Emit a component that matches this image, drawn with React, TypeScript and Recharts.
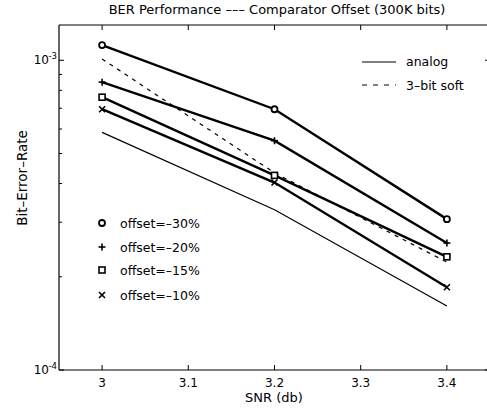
import React from 'react';
import { LineChart, Line, XAxis, YAxis } from 'recharts';

const FONT = '"DejaVu Sans", "Liberation Sans", Arial, sans-serif';

// ---- data ----
const snr = [3, 3.2, 3.4];
const offset30 = [1.12e-3, 6.95e-4, 3.07e-4];
const offset20 = [8.5e-4, 5.5e-4, 2.57e-4];
const offset15 = [7.6e-4, 4.25e-4, 2.32e-4];
const offset10 = [6.95e-4, 4.03e-4, 1.85e-4];
const analog = [5.85e-4, 3.29e-4, 1.61e-4];
const soft3 = [1.01e-3, 4.33e-4, 2.23e-4];

const xTicks = [3, 3.1, 3.2, 3.3, 3.4];
const xTickLabels = ['3', '3.1', '3.2', '3.3', '3.4'];
const yTicks = [1e-4, 2e-4, 3e-4, 4e-4, 5e-4, 6e-4, 7e-4, 8e-4, 9e-4, 1e-3];
const xDomain: [number, number] = [2.95, 3.45];
const yDomain: [number, number] = [1e-4, 1.3e-3];

const markerLabels = ['offset=–30%', 'offset=–20%', 'offset=–15%', 'offset=–10%'];
const lineLabels = ['analog', '3–bit soft'];

const data = snr.map((s, i) => ({
  snr: s,
  o30: offset30[i],
  o20: offset20[i],
  o15: offset15[i],
  o10: offset10[i],
  analog: analog[i],
  soft: soft3[i],
}));

// ---- markers ----
const Circ = ({ cx, cy }: any) => (
  <circle cx={cx} cy={cy} r={3} fill="#fff" stroke="#000" strokeWidth={1.8} />
);
const Plus = ({ cx, cy }: any) => (
  <g stroke="#000" strokeWidth={1.6}>
    <line x1={cx - 3.5} x2={cx + 3.5} y1={cy} y2={cy} />
    <line x1={cx} x2={cx} y1={cy - 3.5} y2={cy + 3.5} />
  </g>
);
const Sq = ({ cx, cy }: any) => (
  <rect x={cx - 3} y={cy - 3} width={6} height={6} fill="#fff" stroke="#000" strokeWidth={1.6} />
);
const Cross = ({ cx, cy }: any) => (
  <g stroke="#000" strokeWidth={1.6}>
    <line x1={cx - 3} x2={cx + 3} y1={cy - 3} y2={cy + 3} />
    <line x1={cx - 3} x2={cx + 3} y1={cy + 3} y2={cy - 3} />
  </g>
);

const dotFn = (M: any, k: string) => (p: any) => <M key={`${k}${p.index}`} cx={p.cx} cy={p.cy} />;

// ---- ticks ----
const isMajor = (v: number) => {
  const e = Math.round(Math.log10(v));
  return Math.abs(v / Math.pow(10, e) - 1) < 1e-9;
};

const LeftTick = (p: any) => {
  const { x, y, payload } = p;
  const v = payload.value;
  const major = isMajor(v);
  const e = Math.round(Math.log10(v));
  return (
    <g>
      <line x1={x} x2={x + (major ? 5 : 3)} y1={y} y2={y} stroke="#000" strokeWidth={1} />
      {major && (
        <>
          <text x={x - 10} y={y + 3.5} textAnchor="end" fontSize={12} fontFamily={FONT} fill="#000">
            10
          </text>
          <text x={x - 10.5} y={y - 1.5} textAnchor="start" fontSize={8.5} fontFamily={FONT} fill="#000">
            {`-${-e}`}
          </text>
        </>
      )}
    </g>
  );
};

const RightTick = (p: any) => {
  const { x, y, payload } = p;
  const major = isMajor(payload.value);
  return <line x1={x} x2={x - (major ? 5 : 3)} y1={y} y2={y} stroke="#000" strokeWidth={1} />;
};

const BottomTick = (p: any) => {
  const { x, y, index } = p;
  return (
    <g>
      <line x1={x} x2={x} y1={y} y2={y - 5} stroke="#000" strokeWidth={1} />
      <text x={x} y={y + 17} textAnchor="middle" fontSize={12} fontFamily={FONT} fill="#000">
        {xTickLabels[index]}
      </text>
    </g>
  );
};

const TopTick = (p: any) => {
  const { x, y } = p;
  return <line x1={x} x2={x} y1={y} y2={y + 5} stroke="#000" strokeWidth={1} />;
};

const axisLine = { stroke: '#000', strokeWidth: 1.2 };

export default function App() {
  return (
    <div
      style={{
        position: 'absolute',
        left: 0,
        top: 0,
        width: 487,
        height: 408,
        overflow: 'hidden',
        background: '#fff',
      }}
    >
      <LineChart
        width={492}
        height={408}
        data={data}
        margin={{ top: 20, right: 0, bottom: 0, left: 0 }}
      >
        <XAxis
          xAxisId="b"
          dataKey="snr"
          type="number"
          domain={xDomain}
          ticks={xTicks}
          allowDataOverflow
          orientation="bottom"
          height={38}
          tickSize={0}
          tickMargin={0}
          tickLine={false}
          axisLine={axisLine}
          tick={<BottomTick />}
          interval={0}
        />
        <XAxis
          xAxisId="t"
          dataKey="snr"
          type="number"
          domain={xDomain}
          ticks={xTicks}
          allowDataOverflow
          orientation="top"
          height={5}
          tickSize={0}
          tickMargin={0}
          tickLine={false}
          axisLine={axisLine}
          tick={<TopTick />}
          interval={0}
        />
        <YAxis
          yAxisId="l"
          type="number"
          scale="log"
          domain={yDomain}
          ticks={yTicks}
          allowDataOverflow
          orientation="left"
          width={59}
          tickSize={0}
          tickMargin={0}
          tickLine={false}
          axisLine={axisLine}
          tick={<LeftTick />}
          interval={0}
        />
        <YAxis
          yAxisId="r"
          type="number"
          scale="log"
          domain={yDomain}
          ticks={yTicks}
          allowDataOverflow
          orientation="right"
          width={2}
          tickSize={0}
          tickMargin={0}
          tickLine={false}
          axisLine={axisLine}
          tick={<RightTick />}
          interval={0}
        />
        <Line xAxisId="b" yAxisId="l" dataKey="analog" stroke="#000" strokeWidth={1.2} dot={false} isAnimationActive={false} />
        <Line xAxisId="b" yAxisId="l" dataKey="soft" stroke="#000" strokeWidth={1.2} strokeDasharray="4 5" dot={false} isAnimationActive={false} />
        <Line xAxisId="b" yAxisId="l" dataKey="o30" stroke="#000" strokeWidth={2.4} dot={dotFn(Circ, 'c')} isAnimationActive={false} />
        <Line xAxisId="b" yAxisId="l" dataKey="o20" stroke="#000" strokeWidth={2.4} dot={dotFn(Plus, 'p')} isAnimationActive={false} />
        <Line xAxisId="b" yAxisId="l" dataKey="o15" stroke="#000" strokeWidth={2.4} dot={dotFn(Sq, 's')} isAnimationActive={false} />
        <Line xAxisId="b" yAxisId="l" dataKey="o10" stroke="#000" strokeWidth={2.4} dot={dotFn(Cross, 'x')} isAnimationActive={false} />
      </LineChart>
      <svg
        width={487}
        height={408}
        style={{ position: 'absolute', left: 0, top: 0, pointerEvents: 'none' }}
        fontFamily={FONT}
        fill="#000"
      >
        <text x={277} y={14} textAnchor="middle" fontSize={13}>
          BER Performance ––– Comparator Offset (300K bits)
        </text>
        <text x={274} y={402} textAnchor="middle" fontSize={13}>
          SNR (db)
        </text>
        <text x={27} y={178} textAnchor="middle" fontSize={13.5} transform="rotate(-90 27 178)">
          Bit–Error–Rate
        </text>
        {/* line-style legend */}
        <line x1={362} x2={396} y1={62} y2={62} stroke="#000" strokeWidth={1.2} />
        <text x={406} y={66} fontSize={12.5}>
          {lineLabels[0]}
        </text>
        <line x1={362} x2={396} y1={85} y2={85} stroke="#000" strokeWidth={1.2} strokeDasharray="5 6" />
        <text x={406} y={89.5} fontSize={12.5}>
          {lineLabels[1]}
        </text>
        {/* marker legend */}
        <Circ cx={102} cy={223} />
        <Plus cx={102} cy={247} />
        <Sq cx={102} cy={270} />
        <Cross cx={102} cy={295} />
        {markerLabels.map((l, i) => (
          <text key={l} x={120} y={[227.5, 251.5, 274.5, 299.5][i]} fontSize={12.5}>
            {l}
          </text>
        ))}
      </svg>
    </div>
  );
}
